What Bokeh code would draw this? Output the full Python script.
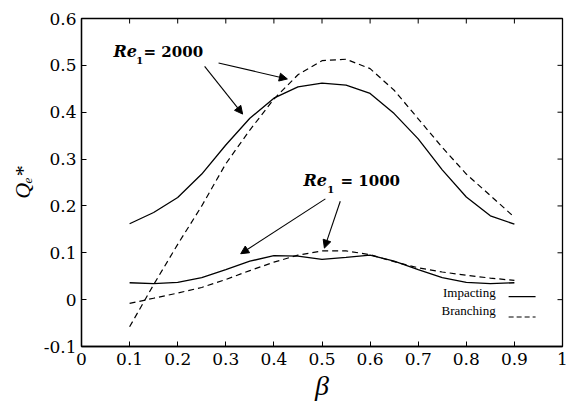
from bokeh.plotting import figure
from bokeh.models import Range1d, FixedTicker, Label, Arrow, NormalHead
from bokeh.embed import file_html
from bokeh.resources import INLINE

# ---- data ----
beta = [0.1, 0.15, 0.2, 0.25, 0.3, 0.35, 0.4, 0.45, 0.5, 0.55, 0.6,
        0.65, 0.7, 0.75, 0.8, 0.85, 0.9]
imp_2000 = [0.162, 0.186, 0.218, 0.268, 0.33, 0.387, 0.43, 0.454, 0.462,
            0.458, 0.44, 0.397, 0.343, 0.277, 0.219, 0.179, 0.161]
bra_2000 = [-0.058, 0.032, 0.118, 0.2, 0.29, 0.362, 0.428, 0.48, 0.51,
            0.513, 0.493, 0.447, 0.386, 0.325, 0.268, 0.222, 0.176]
imp_1000 = [0.036, 0.034, 0.037, 0.047, 0.064, 0.082, 0.094, 0.093, 0.086,
            0.09, 0.095, 0.082, 0.064, 0.047, 0.037, 0.034, 0.036]
bra_1000 = [-0.008, 0.003, 0.014, 0.026, 0.043, 0.062, 0.08, 0.095, 0.104,
            0.104, 0.096, 0.081, 0.068, 0.059, 0.052, 0.046, 0.041]

x_ticks = [0, 0.1, 0.2, 0.3, 0.4, 0.5, 0.6, 0.7, 0.8, 0.9, 1]
x_tick_labels = ["0", "0.1", "0.2", "0.3", "0.4", "0.5", "0.6", "0.7",
                 "0.8", "0.9", "1"]
y_ticks = [-0.1, 0, 0.1, 0.2, 0.3, 0.4, 0.5, 0.6]
y_tick_labels = ["-0.1", "0", "0.1", "0.2", "0.3", "0.4", "0.5", "0.6"]

SERIF = "'DejaVu Serif', 'Liberation Serif', serif"
TIMES = "'Liberation Serif', serif"

X0, X1, Y0, Y1 = 0, 1, -0.1, 0.6
p = figure(width=571, height=408, output_backend="svg", toolbar_location=None,
           x_range=Range1d(X0, X1), y_range=Range1d(Y0, Y1),
           min_border_left=81, min_border_right=9, min_border_top=18,
           min_border_bottom=62)
p.grid.visible = False
p.outline_line_color = "black"
p.outline_line_width = 1.3
p.background_fill_color = "white"
p.border_fill_color = "white"

for ax, ticks, labels in ((p.xaxis[0], x_ticks, x_tick_labels),
                          (p.yaxis[0], y_ticks, y_tick_labels)):
    ax.ticker = FixedTicker(ticks=ticks)
    ax.major_label_overrides = {t: l for t, l in zip(ticks, labels)}
    ax.major_tick_in = 5
    ax.major_tick_out = 0
    ax.minor_tick_line_color = None
    ax.axis_line_color = "black"
    ax.axis_line_width = 1.3
    ax.major_tick_line_color = "black"
    ax.major_label_text_font = SERIF
    ax.major_label_text_font_size = "17px"
    ax.major_label_text_color = "black"

p.xaxis[0].major_label_standoff = 6
p.yaxis[0].major_label_standoff = 5
p.xaxis[0].axis_label = "β"
p.xaxis[0].axis_label_text_font = TIMES
p.xaxis[0].axis_label_text_font_style = "italic"
p.xaxis[0].axis_label_text_font_size = "28px"
p.xaxis[0].axis_label_standoff = 2
p.xaxis[0].axis_label_text_color = "black"

p.yaxis[0].axis_label = "Q\u2091*"
p.yaxis[0].axis_label_text_font = TIMES
p.yaxis[0].axis_label_text_font_style = "italic"
p.yaxis[0].axis_label_text_font_size = "22px"
p.yaxis[0].axis_label_standoff = 6
p.yaxis[0].axis_label_text_color = "black"

# mirrored inward ticks on top and right frame edges (5 px long)
tx = 5 * (X1 - X0) / 481
ty = 5 * (Y1 - Y0) / 328
p.segment(x0=x_ticks, y0=[Y1] * len(x_ticks), x1=x_ticks,
          y1=[Y1 - ty] * len(x_ticks), line_color="black", line_width=1)
p.segment(x0=[X1] * len(y_ticks), y0=y_ticks, x1=[X1 - tx] * len(y_ticks),
          y1=y_ticks, line_color="black", line_width=1)

# curves
p.line(beta, imp_2000, line_color="black", line_width=1.3)
p.line(beta, bra_2000, line_color="black", line_width=1.2, line_dash="6 4")
p.line(beta, imp_1000, line_color="black", line_width=1.3)
p.line(beta, bra_1000, line_color="black", line_width=1.2, line_dash="6 4")

# annotations
def re_label(x0, x1, x2, yb, ys, num):
    p.add_layout(Label(x=x0, y=yb, text="Re", text_font=SERIF,
                       text_font_style="bold italic", text_font_size="16px",
                       text_color="black"))
    p.add_layout(Label(x=x1, y=ys, text="1", text_font=SERIF,
                       text_font_style="bold", text_font_size="10px",
                       text_color="black"))
    p.add_layout(Label(x=x2, y=yb, text="= " + num, text_font=SERIF,
                       text_font_style="bold", text_font_size="15px",
                       text_color="black"))

re_label(0.0665, 0.114, 0.129, 0.509, 0.503, "2000")
re_label(0.4615, 0.511, 0.5385, 0.233, 0.227, "1000")

arrows = [(0.285, 0.505, 0.428, 0.471), (0.256, 0.498, 0.335, 0.396),
          (0.507, 0.215, 0.331, 0.098), (0.538, 0.210, 0.505, 0.110)]
for xs, ys, xe, ye in arrows:
    p.add_layout(Arrow(x_start=xs, y_start=ys, x_end=xe, y_end=ye,
                       line_color="black", line_width=1.1,
                       end=NormalHead(size=8, fill_color="black",
                                      line_color="black", line_width=1)))

# legend
p.add_layout(Label(x=0.861, y=0.0, text="Impacting", text_align="right",
                   text_font=TIMES, text_font_size="13px", text_color="black"))
p.add_layout(Label(x=0.861, y=-0.039, text="Branching", text_align="right",
                   text_font=TIMES, text_font_size="13px", text_color="black"))
p.add_layout(Arrow(x_start=0.888, y_start=0.0064, x_end=0.944, y_end=0.0064,
                   end=None, line_color="black", line_width=1.2))
p.add_layout(Arrow(x_start=0.888, y_start=-0.037, x_end=0.944, y_end=-0.037,
                   end=None, line_color="black", line_width=1.2,
                   line_dash="5 3"))

open("out.html", "w").write(file_html(p, INLINE))
